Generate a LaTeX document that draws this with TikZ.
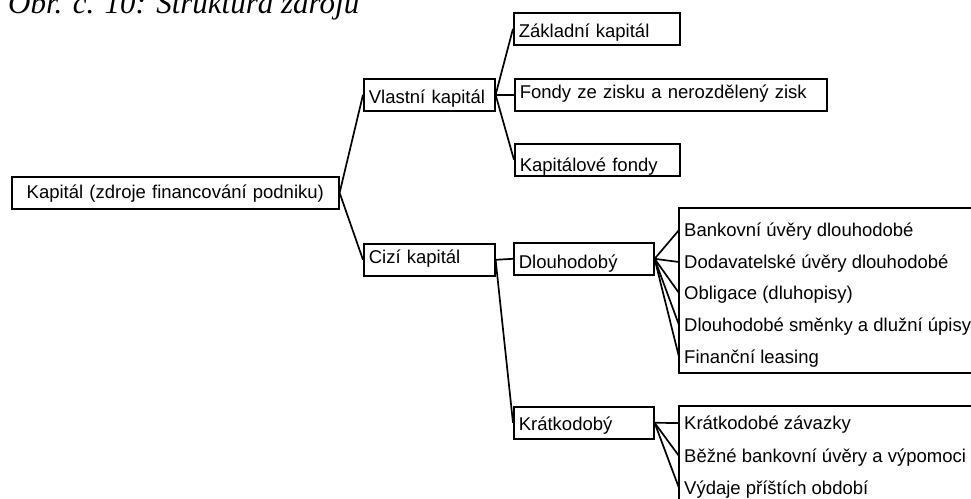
\documentclass[tikz,border=0pt]{standalone}
\usepackage{fontspec}
\setmainfont{Liberation Sans}
\newfontfamily\capfont{Liberation Serif}
\begin{document}
\begin{tikzpicture}[x=1pt,y=-1pt,
  every node/.style={font=\fontsize{18.5}{22}\selectfont},
  % box: baseline sits #1 below the top edge of a 32pt box
  box/.style={draw, line width=1.6pt, anchor=north west, inner xsep=5pt, inner ysep=0pt,
    minimum height=32pt, align=left, text depth=0pt, text height={2*(#1-16)*1pt}},
  box/.default=25,
  item/.style={anchor=west, inner xsep=5pt, inner ysep=0pt, text height=13pt, text depth=0pt},
  link/.style={line width=1.7pt},
  frame/.style={draw, line width=1.6pt}]
\useasboundingbox (0,0) rectangle (971,498);
\clip (0,0) rectangle (971,498);

% caption, partly above the page edge
\node[anchor=base west, inner sep=0, font=\capfont\itshape\fontsize{31}{36}\selectfont]
  (cap) at (8,13) {Obr. č. 10: Struktura zdrojů};

% main tree
\node[box=22, align=center, text width=317pt] (root) at (11,176) {Kapitál (zdroje financování podniku)};
\node[box=25, text width=121pt] (vl) at (363,78) {Vlastní kapitál};
\node[box=20, text width=121pt] (ci) at (363,243) {Cizí kapitál};
\node[box=25, text width=156pt] (zk) at (513,12) {Základní kapitál};
\node[box=20, text width=302pt] (fz) at (514,78) {Fondy ze zisku a nerozdělený zisk};
\node[box=28, text width=155pt] (kf) at (514,143) {Kapitálové fondy};
\node[box=26, text width=130pt] (dl) at (513,242) {Dlouhodobý};
\node[box=24, text width=130pt] (kr) at (513,406) {Krátkodobý};

% grouped lists
\draw[frame] (679,208) rectangle (1000,373);
\draw[frame] (679,406) rectangle (1000,530);
\node[item] (d1) at (679,230) {Bankovní úvěry dlouhodobé};
\node[item] (d2) at (679,262) {Dodavatelské úvěry dlouhodobé};
\node[item] (d3) at (679,293) {Obligace (dluhopisy)};
\node[item] (d4) at (679,325) {Dlouhodobé směnky a dlužní úpisy};
\node[item] (d5) at (679,357) {Finanční leasing};
\node[item] (k1) at (679,423) {Krátkodobé závazky};
\node[item] (k2) at (679,456) {Běžné bankovní úvěry a výpomoci};
\node[item] (k3) at (679,488) {Výdaje příštích období};

% connectors
\draw[link] (root.east) -- (vl.west);
\draw[link] (root.east) -- (ci.west);
\foreach \c in {zk,fz,kf} \draw[link] (vl.east) -- (\c.west);
\foreach \c in {dl,kr} \draw[link] (ci.east) -- (\c.west);
\foreach \c in {d1,d2,d3,d4,d5} \draw[link] (dl.east) -- (\c.west);
\foreach \c in {k1,k2,k3} \draw[link] (kr.east) -- (\c.west);
\end{tikzpicture}
\end{document}
